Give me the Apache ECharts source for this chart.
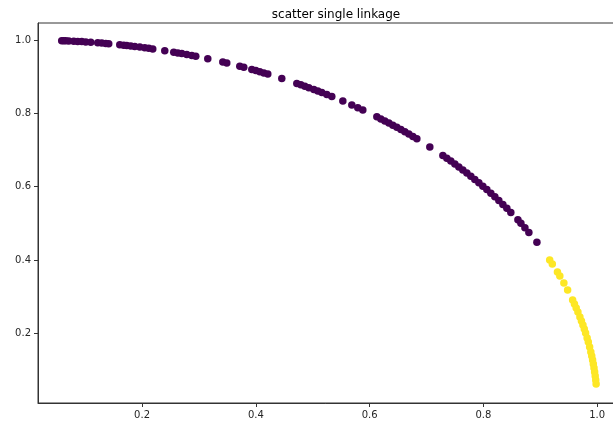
<!DOCTYPE html>
<html>
<head>
<meta charset="utf-8">
<script src="https://cdn.jsdelivr.net/npm/echarts@6/dist/echarts.min.js"></script>
<style>html,body{margin:0;padding:0;background:#fff}#c{width:613px;height:421px}</style>
</head>
<body>
<div id="c"></div>
<script>
const titleText = 'scatter single linkage';
const xTicks = [0.2, 0.4, 0.6, 0.8, 1.0];
const yTicks = [0.2, 0.4, 0.6, 0.8, 1.0];

// cluster 0 (purple)
const cluster0X = [0.0588,0.0623,0.0658,0.0711,0.0799,0.0869,0.0940,0.1010,0.1098,0.1221,0.1291,0.1362,0.1414,
  0.1608,0.1678,0.1731,0.1801,0.1872,0.1960,0.2047,0.2118,0.2188,0.2399,0.2557,0.2628,0.2698,0.2786,0.2874,0.2944,
  0.3155,0.3419,0.3489,0.3718,0.3788,0.3929,0.3999,0.4069,0.4140,0.4210,0.4456,0.4720,0.4790,0.4861,0.4931,0.5019,
  0.5089,0.5159,0.5247,0.5335,0.5529,0.5687,0.5792,0.5880,0.6127,0.6197,0.6267,0.6338,0.6408,0.6478,0.6549,0.6619,
  0.6689,0.6760,0.6830,0.7058,0.7287,0.7357,0.7427,0.7498,0.7568,0.7638,0.7709,0.7779,0.7849,0.7920,0.7990,0.8060,
  0.8131,0.8201,0.8271,0.8342,0.8412,0.8482,0.8606,0.8659,0.8729,0.8799,0.8940];
const cluster0Y = [0.9983,0.9981,0.9978,0.9975,0.9968,0.9962,0.9956,0.9949,0.9940,0.9925,0.9916,0.9907,0.9900,
  0.9870,0.9858,0.9849,0.9836,0.9823,0.9806,0.9788,0.9773,0.9758,0.9708,0.9668,0.9648,0.9629,0.9604,0.9578,0.9557,
  0.9489,0.9397,0.9372,0.9283,0.9255,0.9196,0.9166,0.9135,0.9103,0.9071,0.8952,0.8816,0.8778,0.8739,0.8700,0.8649,
  0.8608,0.8566,0.8513,0.8458,0.8333,0.8226,0.8152,0.8089,0.7903,0.7848,0.7792,0.7735,0.7677,0.7618,0.7557,0.7496,
  0.7433,0.7369,0.7304,0.7084,0.6848,0.6773,0.6696,0.6617,0.6536,0.6454,0.6370,0.6284,0.6196,0.6105,0.6013,0.5919,
  0.5821,0.5722,0.5621,0.5515,0.5407,0.5297,0.5093,0.5002,0.4879,0.4751,0.4481];

// cluster 1 (yellow)
const cluster1X = [0.9165,0.9211,0.9301,0.9343,0.9414,0.9480,0.9568,0.9600,0.9631,0.9661,0.9696,0.9723,0.9749,
  0.9773,0.9796,0.9823,0.9844,0.9867,0.9888,0.9904,0.9919,0.9932,0.9944,0.9955,0.9965,0.9974,0.9981];
const cluster1Y = [0.4001,0.3892,0.3674,0.3565,0.3373,0.3182,0.2909,0.2800,0.2691,0.2582,0.2445,0.2336,0.2227,
  0.2117,0.2008,0.1872,0.1762,0.1626,0.1489,0.1380,0.1271,0.1162,0.1053,0.0943,0.0834,0.0725,0.0616];

const toPairs = (xs, ys) => xs.map((x, i) => [x, ys[i]]);

const chart = echarts.init(document.getElementById('c'), null, {renderer: 'canvas'});
const axisCommon = {
  type: 'value',
  splitLine: {show: false},
  axisLine: {show: true, onZero: false, lineStyle: {color: '#333', width: 1}},
  axisTick: {show: true, length: 4, inside: false, lineStyle: {color: '#333', width: 1}},
  axisLabel: {color: '#262626', fontFamily: 'DejaVu Sans', fontSize: 10, margin: 7,
    formatter: v => Number(v).toFixed(1)}
};
chart.setOption({
  animation: false,
  backgroundColor: '#ffffff',
  title: {
    text: titleText, left: 331, top: 4, textAlign: 'center',
    textStyle: {fontFamily: 'DejaVu Sans', fontSize: 12, fontWeight: 'normal', color: '#000'}
  },
  grid: {left: 38, top: 23, right: -11, bottom: 18, containLabel: false, outerBoundsMode: 'none',
    show: true, borderColor: '#333', borderWidth: 1, backgroundColor: 'transparent'},
  xAxis: Object.assign({}, axisCommon, {
    min: 0.0171, max: 1.0471,
    axisTick: Object.assign({}, axisCommon.axisTick, {customValues: xTicks}),
    axisLabel: Object.assign({}, axisCommon.axisLabel, {customValues: xTicks})
  }),
  yAxis: Object.assign({}, axisCommon, {
    min: 0.0097, max: 1.0464,
    axisTick: Object.assign({}, axisCommon.axisTick, {customValues: yTicks}),
    axisLabel: Object.assign({}, axisCommon.axisLabel, {customValues: yTicks})
  }),
  series: [
    {type: 'scatter', data: toPairs(cluster0X, cluster0Y), symbol: 'circle', symbolSize: 7.5,
      itemStyle: {color: '#440154', opacity: 1}},
    {type: 'scatter', data: toPairs(cluster1X, cluster1Y), symbol: 'circle', symbolSize: 7.5,
      itemStyle: {color: '#fde725', opacity: 1}}
  ]
});
</script>
</body>
</html>
